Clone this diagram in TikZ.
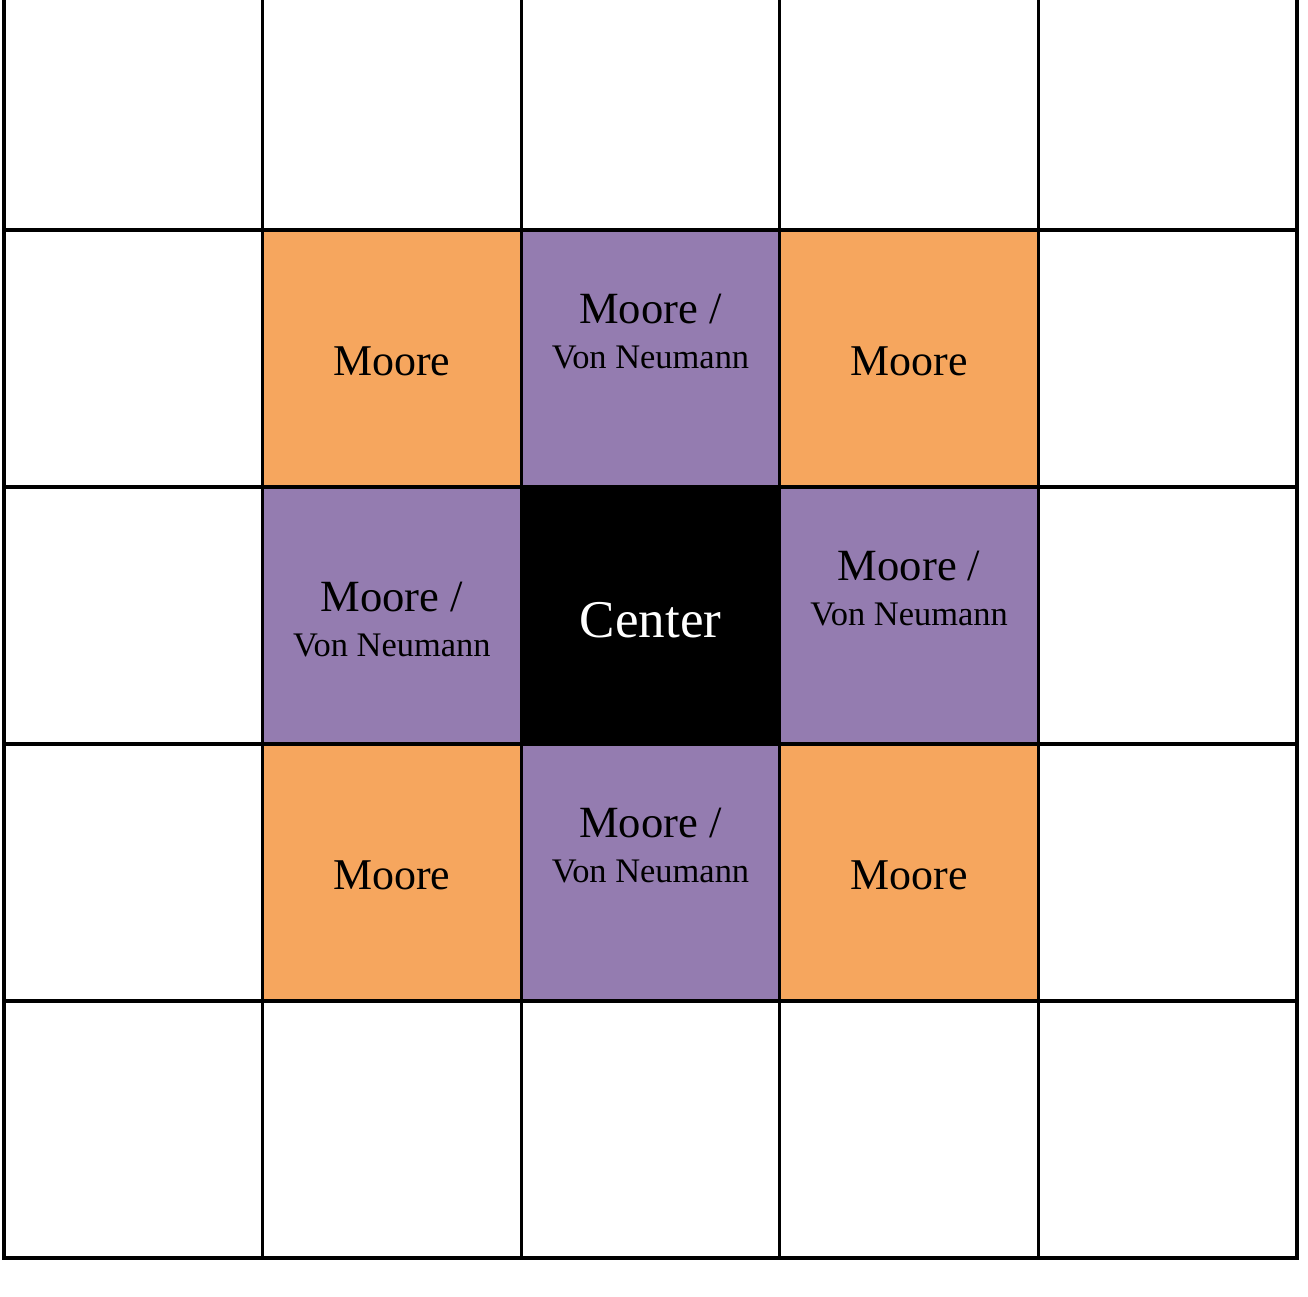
\documentclass[tikz,border=0pt]{standalone}
\usepackage{fontspec}
\setmainfont{Liberation Serif}
\usepackage{xcolor}
\usetikzlibrary{positioning}

\definecolor{mooreorange}{RGB}{246,166,94}
\definecolor{vonpurple}{RGB}{148,124,176}

\newcommand{\bothtext}{{\fontsize{12.7}{14}\selectfont Moore /}\\[-1pt]{\fontsize{9.8}{11}\selectfont Von Neumann}}

\begin{document}
\begin{tikzpicture}[
  cell/.style={draw, line width=0.9pt, minimum width=2.586cm, minimum height=2.57cm, inner sep=0pt, outer sep=0pt},
  moore/.style={cell, fill=mooreorange},
  both/.style={cell, fill=vonpurple},
  ctr/.style={cell, fill=black},
  txt/.style={align=center, inner sep=0pt, font=\fontsize{12.5}{14}\selectfont}
]

\useasboundingbox (0,0) rectangle (13.08,12.96);
\clip (0,0) rectangle (13.08,12.96);

% empty grid
\foreach \r in {0,...,4}
  \foreach \c in {0,...,4}
    \node[cell] (c-\r-\c) at ({0.04+(\c+0.5)*2.586},{0.38+(4-\r+0.5)*2.57}) {};

% neighbourhood
\node[moore] (m-1-1) at (c-1-1) {};
\node[both]  (b-1-2) at (c-1-2) {};
\node[moore] (m-1-3) at (c-1-3) {};
\node[both]  (b-2-1) at (c-2-1) {};
\node[ctr]   (center) at (c-2-2) {};
\node[both]  (b-2-3) at (c-2-3) {};
\node[moore] (m-3-1) at (c-3-1) {};
\node[both]  (b-3-2) at (c-3-2) {};
\node[moore] (m-3-3) at (c-3-3) {};

% labels
\node[txt] (t-1-1) at ([yshift=-0.03cm]m-1-1.center) {Moore};
\node[txt] (t-1-3) at ([yshift=-0.03cm]m-1-3.center) {Moore};
\node[txt] (t-3-1) at ([yshift=-0.03cm]m-3-1.center) {Moore};
\node[txt] (t-3-3) at ([yshift=-0.03cm]m-3-3.center) {Moore};
\node[txt] (t-b-1-2) at ([yshift=0.27cm]b-1-2.center) {\bothtext};
\node[txt] (t-b-2-1) at ([yshift=-0.04cm]b-2-1.center) {\bothtext};
\node[txt] (t-b-2-3) at ([yshift=0.27cm]b-2-3.center) {\bothtext};
\node[txt] (t-b-3-2) at ([yshift=0.27cm]b-3-2.center) {\bothtext};
\node[txt, text=white, font=\fontsize{15.1}{17}\selectfont] (t-center) at ([yshift=-0.05cm]center.center) {Center};

\end{tikzpicture}
\end{document}
